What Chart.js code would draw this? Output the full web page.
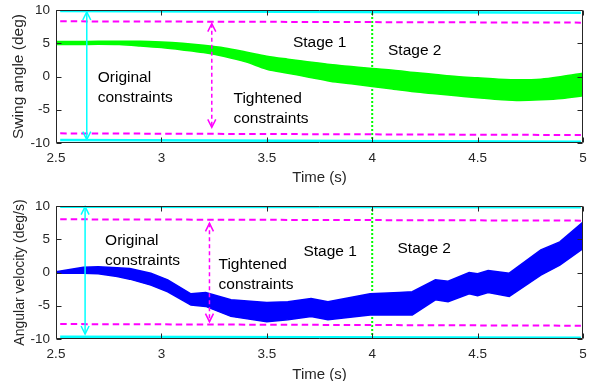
<!DOCTYPE html>
<html>
<head>
<meta charset="utf-8">
<script src="https://cdn.jsdelivr.net/npm/chart.js@4.4.0/dist/chart.umd.min.js"></script>
<style>
  html, body { margin: 0; padding: 0; background: #fff; }
  #wrap { position: relative; width: 589px; height: 381px; overflow: hidden; }
  canvas { position: absolute; left: 0; }
  #c1 { top: 0; }
  #c2 { top: 192px; }
</style>
</head>
<body>
<div id="wrap">
  <canvas id="c1" width="589" height="190"></canvas>
  <canvas id="c2" width="589" height="191"></canvas>
</div>
<script>
const xTicks = [2.5, 3, 3.5, 4, 4.5, 5];
const yTicks = [-10, -5, 0, 5, 10];

// swing angle bundle, upper and lower edge
const angleT  = [2.5, 2.6, 2.7, 2.8, 2.9, 3.0, 3.1, 3.2, 3.3, 3.4, 3.5, 3.6, 3.7,
                 3.8, 3.9, 4.0, 4.1, 4.2, 4.3, 4.4, 4.5, 4.6, 4.7, 4.8, 4.9, 5.0];
const angleHi = [5.25, 5.25, 5.3, 5.3, 5.3, 5.2, 5.0, 4.7, 4.3, 3.7, 3.05, 2.6, 2.2,
                 1.8, 1.5, 1.2, 0.95, 0.6, 0.3, 0.0, -0.2, -0.4, -0.5, -0.4, 0.0, 0.5];
const angleLo = [4.8, 4.8, 4.85, 4.8, 4.6, 4.35, 4.0, 3.6, 3.0, 2.2, 1.1, 0.5, -0.1,
                 -0.7, -1.1, -1.5, -1.9, -2.3, -2.6, -2.9, -3.2, -3.45, -3.6, -3.5, -3.3, -2.9];

// angular velocity bundle, upper and lower edge
const velT  = [2.5, 2.63, 2.7, 2.79, 2.85, 2.95, 3.03, 3.14, 3.21, 3.33, 3.5, 3.6, 3.71,
               3.79, 3.99, 4.13, 4.19, 4.3, 4.36, 4.46, 4.5, 4.55, 4.65, 4.8, 4.89, 5.0];
const velHi = [0.1, 0.8, 0.85, 0.7, 0.6, -0.1, -1.1, -3.2, -3.0, -4.1, -4.5, -4.4, -3.9,
               -4.4, -3.2, -3.0, -2.9, -1.1, -1.3, 0.0, -0.2, 0.3, -0.1, 3.4, 4.6, 7.6];
const velLo = [-0.1, -0.1, -0.2, -0.6, -1.0, -1.9, -2.9, -4.9, -5.1, -6.6, -7.4, -7.1, -6.6,
               -7.1, -6.4, -6.4, -6.4, -4.1, -4.4, -3.2, -3.5, -3.0, -3.6, -0.4, 1.1, 3.6];

// constraint lines (value at both ends)
const limitT = [2.52, 4.99];
const angleOrigHi  = [9.85, 9.6];
const angleOrigLo  = [-9.55, -9.8];
const angleTightHi = [8.3, 8.1];
const angleTightLo = [-8.55, -8.8];
const velOrigHi  = [9.9, 9.8];
const velOrigLo  = [-9.65, -9.8];
const velTightHi = [8.0, 7.8];
const velTightLo = [-7.75, -8.0];

const stageSwitch = 4;

const FONT = '"Liberation Sans", Arial, Helvetica, sans-serif';
const AXIS = '#262626';
const CYAN = '#00ffff', MAGENTA = '#ff00ff', GREEN = '#00ff00', BLUE = '#0000ff';

function lineSet(xs, ys, color, width, dash, extra) {
  return Object.assign({
    data: xs.map((x, i) => ({ x: x, y: ys[i] })),
    borderColor: color,
    backgroundColor: color,
    borderWidth: width,
    borderDash: dash || [],
    pointRadius: 0,
    fill: false,
    tension: 0
  }, extra || {});
}

// text, arrows, box and inward ticks like a matlab axes
const boxPlugin = {
  id: 'box',
  afterDraw(chart, args, o) {
    const ctx = chart.ctx;
    const a = chart.chartArea;
    const x = chart.scales.x, y = chart.scales.y;
    ctx.save();

    o.arrows.forEach(ar => {
      const px = x.getPixelForValue(ar.x);
      const p1 = y.getPixelForValue(ar.y1);
      const p2 = y.getPixelForValue(ar.y2);
      ctx.strokeStyle = ar.color;
      ctx.lineWidth = 1.5;
      ctx.setLineDash(ar.dashed ? [4, 3] : []);
      ctx.beginPath(); ctx.moveTo(px, p1); ctx.lineTo(px, p2); ctx.stroke();
      ctx.setLineDash([]);
      ctx.beginPath();
      ctx.moveTo(px - 4, p1 + 8); ctx.lineTo(px, p1); ctx.lineTo(px + 4, p1 + 8);
      ctx.moveTo(px - 4, p2 - 8); ctx.lineTo(px, p2); ctx.lineTo(px + 4, p2 - 8);
      ctx.stroke();
    });

    ctx.fillStyle = '#000';
    ctx.font = '15.5px ' + FONT;
    ctx.textAlign = 'left';
    ctx.textBaseline = 'alphabetic';
    o.notes.forEach(n => {
      const px = x.getPixelForValue(n.x);
      const py = y.getPixelForValue(n.y);
      n.lines.forEach((t, i) => ctx.fillText(t, px, py + i * 20));
    });

    const L = Math.round(a.left) + 0.5, R = Math.round(a.right) - 0.5;
    const T = Math.round(a.top) + 0.5, B = Math.round(a.bottom) - 0.5;
    ctx.setLineDash([]);
    ctx.strokeStyle = AXIS;
    ctx.lineWidth = 1;
    ctx.beginPath();
    ctx.moveTo(L, T); ctx.lineTo(R, T); ctx.lineTo(R, B); ctx.lineTo(L, B); ctx.closePath();
    xTicks.forEach(v => {
      const px = Math.round(x.getPixelForValue(v)) + 0.5;
      ctx.moveTo(px, B); ctx.lineTo(px, B - 5);
      ctx.moveTo(px, T); ctx.lineTo(px, T + 5);
    });
    yTicks.forEach(v => {
      const py = Math.round(y.getPixelForValue(v)) + 0.5;
      ctx.moveTo(L, py); ctx.lineTo(L + 5, py);
      ctx.moveTo(R, py); ctx.lineTo(R - 5, py);
    });
    ctx.stroke();
    ctx.restore();
  }
};

function makeChart(id, cfg) {
  const mode = cfg.smooth ? 'monotone' : 'default';
  const datasets = [
    lineSet(limitT, cfg.origHi, CYAN, 2.5),
    lineSet(limitT, cfg.origLo, CYAN, 2.5),
    lineSet(limitT, cfg.tightHi, MAGENTA, 2, [6.5, 4]),
    lineSet(limitT, cfg.tightLo, MAGENTA, 2, [6.5, 4]),
    lineSet(cfg.t, cfg.hi, cfg.color, 1.5, null, { fill: 5, cubicInterpolationMode: mode }),
    lineSet(cfg.t, cfg.lo, cfg.color, 1.5, null, { cubicInterpolationMode: mode }),
    lineSet([stageSwitch, stageSwitch], [-10, 10], GREEN, 2, [2, 2])
  ];

  return new Chart(document.getElementById(id), {
    type: 'line',
    data: { datasets: datasets },
    plugins: [boxPlugin],
    options: {
      responsive: false,
      animation: false,
      devicePixelRatio: 1,
      layout: { padding: { left: 0, right: 6, top: cfg.top, bottom: 0 } },
      plugins: {
        legend: { display: false },
        tooltip: { enabled: false },
        box: { notes: cfg.notes, arrows: cfg.arrows }
      },
      scales: {
        x: {
          type: 'linear', min: 2.5, max: 5,
          afterBuildTicks: s => { s.ticks = xTicks.map(v => ({ value: v })); },
          afterFit: s => { s.height = cfg.xh; s.paddingLeft = 0; s.paddingRight = 0; },
          grid: { display: false, drawTicks: false },
          border: { display: false },
          ticks: {
            autoSkip: false, maxRotation: 0, padding: 7, color: AXIS,
            font: { family: FONT, size: 13.5 },
            callback: v => String(v)
          },
          title: {
            display: true, text: 'Time (s)', color: AXIS,
            font: { family: FONT, size: 15, lineHeight: 1 },
            padding: { top: 0, bottom: cfg.xtPad }
          }
        },
        y: {
          min: -10, max: 10,
          afterBuildTicks: s => { s.ticks = yTicks.map(v => ({ value: v })); },
          afterFit: s => { s.width = 56; s.paddingTop = 0; s.paddingBottom = 0; },
          grid: { display: false, drawTicks: false },
          border: { display: false },
          ticks: {
            padding: 6, color: AXIS,
            font: { family: FONT, size: 13.5 },
            callback: v => String(v)
          },
          title: {
            display: true, text: cfg.ylabel, color: AXIS,
            font: { family: FONT, size: cfg.ysize, lineHeight: 1 },
            padding: { top: cfg.ytPad, bottom: 0 }
          }
        }
      }
    }
  });
}

makeChart('c1', {
  t: angleT, hi: angleHi, lo: angleLo, color: GREEN, smooth: true,
  origHi: angleOrigHi, origLo: angleOrigLo, tightHi: angleTightHi, tightLo: angleTightLo,
  ylabel: 'Swing angle (deg)', ysize: 15.5, ytPad: 11,
  top: 10, xh: 47, xtPad: 4.5,
  notes: [
    { lines: ['Original', 'constraints'], x: 2.698, y: -0.78 },
    { lines: ['Tightened', 'constraints'], x: 3.342, y: -3.94 },
    { lines: ['Stage 1'], x: 3.624, y: 4.48 },
    { lines: ['Stage 2'], x: 4.075, y: 3.23 }
  ],
  arrows: [
    { x: 2.646, y1: 9.7, y2: -9.5, color: CYAN, dashed: false },
    { x: 3.239, y1: 7.95, y2: -7.65, color: MAGENTA, dashed: true }
  ]
});

makeChart('c2', {
  t: velT, hi: velHi, lo: velLo, color: BLUE, smooth: false,
  origHi: velOrigHi, origLo: velOrigLo, tightHi: velTightHi, tightLo: velTightLo,
  ylabel: 'Angular velocity (deg/s)', ysize: 14, ytPad: 13.5,
  top: 14, xh: 44, xtPad: 0.5,
  notes: [
    { lines: ['Original', 'constraints'], x: 2.733, y: 4.14 },
    { lines: ['Tightened', 'constraints'], x: 3.271, y: 0.6 },
    { lines: ['Stage 1'], x: 3.674, y: 2.53 },
    { lines: ['Stage 2'], x: 4.12, y: 2.89 }
  ],
  arrows: [
    { x: 2.638, y1: 9.9, y2: -9.25, color: CYAN, dashed: false },
    { x: 3.228, y1: 7.4, y2: -7.4, color: MAGENTA, dashed: true }
  ]
});
</script>
</body>
</html>
